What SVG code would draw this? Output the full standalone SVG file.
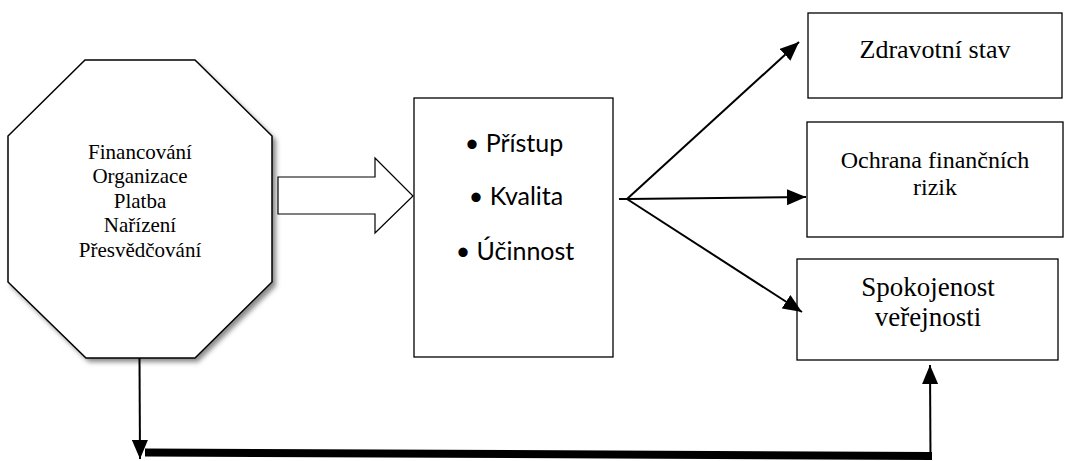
<svg xmlns="http://www.w3.org/2000/svg" width="1065" height="461" viewBox="0 0 1065 461">
<style>
.box{fill:#fff;stroke:#000;stroke-width:1.3}
.line{fill:none;stroke:#000;stroke-width:2}
</style>
<defs>
<marker id="ah" markerUnits="userSpaceOnUse" markerWidth="20" markerHeight="16" refX="19" refY="8" orient="auto">
<path d="M0,0 L19,8 L0,16 Z" fill="#000"/>
</marker>
<filter id="sh" x="-10%" y="-10%" width="130%" height="130%">
<feGaussianBlur stdDeviation="2.5"/>
</filter>
</defs>
<rect width="1065" height="461" fill="#fff"/>
<g id="octagon">
<polygon points="88,64 198,64 276,140 276,286 198,362 89,362 11,286 11,140" fill="#888" filter="url(#sh)"/>
<polygon points="85,60 195,60 272,136 272,282 195,358 86,358 8,282 8,136" fill="#fff" stroke="#000" stroke-width="1.5"/>
<g font-family="'Liberation Serif', 'DejaVu Serif', serif" font-size="21" text-anchor="middle" fill="#000">
<text x="140" y="158.5">Financování</text>
<text x="140" y="183">Organizace</text>
<text x="140" y="207.5">Platba</text>
<text x="140" y="232">Nařízení</text>
<text x="140" y="256.5">Přesvědčování</text>
</g>
</g>
<g id="hollow-arrow">
<polygon points="278,177 375,177 375,158 413,196 375,233 375,214 278,214" fill="#fff" stroke="#000" stroke-width="1.2"/>
</g>
<g id="middle">
<rect class="box" x="414" y="98" width="199" height="259"/>
<g font-family="Lato, 'Noto Sans', sans-serif" font-weight="400" font-size="25" text-anchor="middle" fill="#000">
<text x="514" y="152">• Přístup</text>
<text x="516" y="205">• Kvalita</text>
<text x="515" y="260">• Účinnost</text>
</g>
</g>
<g id="zdravotni">
<rect class="box" x="808" y="13" width="254" height="85"/>
<text font-family="'Liberation Serif', 'DejaVu Serif', serif" font-size="26" text-anchor="middle" x="935" y="58">Zdravotní stav</text>
</g>
<g id="ochrana">
<rect class="box" x="807" y="122" width="256" height="115"/>
<g font-family="'Liberation Serif', 'DejaVu Serif', serif" font-size="24" text-anchor="middle">
<text x="935" y="168">Ochrana finančních</text>
<text x="935" y="195">rizik</text>
</g>
</g>
<g id="spokojenost">
<rect class="box" x="797" y="259" width="261" height="101"/>
<g font-family="'Liberation Serif', 'DejaVu Serif', serif" font-size="27" text-anchor="middle">
<text x="928" y="296">Spokojenost</text>
<text x="928" y="326">veřejnosti</text>
</g>
</g>
<g id="connectors">
<path class="line" d="M619,199 L627,199"/>
<path class="line" d="M627,199 L799,42" marker-end="url(#ah)"/>
<path class="line" d="M627,199 L806,197" marker-end="url(#ah)"/>
<path class="line" d="M627,199 L802,312" marker-end="url(#ah)"/>
<path class="line" d="M139.5,358 L140,459" marker-end="url(#ah)"/>
<path fill="none" stroke="#000" stroke-width="8" d="M145,452.5 L932,456"/>
<path class="line" stroke-width="2.5" d="M930.5,460 L930,365" marker-end="url(#ah)"/>
</g>
</svg>
